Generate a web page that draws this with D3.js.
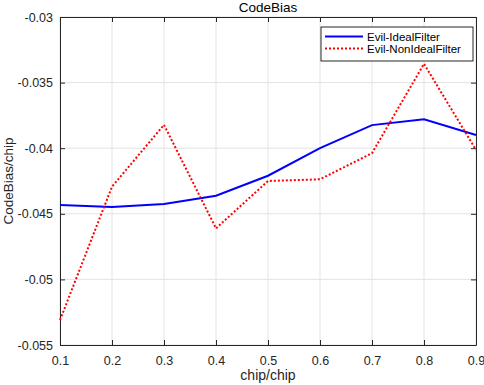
<!DOCTYPE html>
<html>
<head>
<meta charset="utf-8">
<script src="https://cdn.jsdelivr.net/npm/d3@7"></script>
<style>
  body { margin: 0; background: #fff; }
  svg { display: block; font-family: "Liberation Sans", Arial, sans-serif; }
</style>
</head>
<body>
<div id="chart"></div>
<script>
// CodeBias vs chip spacing

const xValues = [0.1, 0.2, 0.3, 0.4, 0.5, 0.6, 0.7, 0.8, 0.9];
const idealValues = [-0.04433, -0.04448, -0.04425, -0.04362, -0.0421, -0.0400, -0.03824, -0.03779, -0.03899];
const nonIdealValues = [-0.0531, -0.04293, -0.03822, -0.04611, -0.0425, -0.04237, -0.04038, -0.03357, -0.04013];
const xTicks = [0.1, 0.2, 0.3, 0.4, 0.5, 0.6, 0.7, 0.8, 0.9];
const yTicks = [-0.055, -0.05, -0.045, -0.04, -0.035, -0.03];
const seriesNames = ["Evil-IdealFilter", "Evil-NonIdealFilter"];

const W = 484, H = 385;
const margin = {top: 17, right: 8, bottom: 40, left: 60},
    width = W - margin.left - margin.right,
    height = H - margin.top - margin.bottom;

const svg = d3.select("#chart")
    .append("svg")
    .attr("width", W)
    .attr("height", H);

const g = svg.append("g")
    .attr("transform", `translate(${margin.left},${margin.top})`);

const x = d3.scaleLinear().domain([0.1, 0.9]).range([0, width]);
const y = d3.scaleLinear().domain([-0.055, -0.03]).range([height, 0]);

const axisColor = "#262626";
const gridColor = "#e3e3e3";

// Grid lines
g.append("g")
    .selectAll("line")
    .data(xTicks)
    .join("line")
    .attr("x1", d => x(d)).attr("x2", d => x(d))
    .attr("y1", 0).attr("y2", height)
    .attr("stroke", gridColor);

g.append("g")
    .selectAll("line")
    .data(yTicks)
    .join("line")
    .attr("x1", 0).attr("x2", width)
    .attr("y1", d => y(d)).attr("y2", d => y(d))
    .attr("stroke", gridColor);

// Axes (ticks inward, box on)
function styleAxis(sel) {
    sel.select(".domain").attr("stroke", axisColor);
    sel.selectAll(".tick line").attr("stroke", axisColor);
    sel.selectAll(".tick text")
        .attr("fill", "#262626")
        .style("font-size", "12.5px")
        .style("font-family", "Liberation Sans, Arial, sans-serif");
}

g.append("g")
    .attr("transform", `translate(0,${height})`)
    .call(d3.axisBottom(x).tickValues(xTicks).tickFormat(d3.format(".1f"))
        .tickSizeInner(-5).tickSizeOuter(0).tickPadding(11))
    .call(styleAxis);

g.append("g")
    .call(d3.axisTop(x).tickValues(xTicks).tickFormat("")
        .tickSizeInner(-5).tickSizeOuter(0))
    .call(styleAxis);

g.append("g")
    .call(d3.axisLeft(y).tickValues(yTicks).tickFormat(d => String(d))
        .tickSizeInner(-5).tickSizeOuter(0).tickPadding(7))
    .call(styleAxis);

g.append("g")
    .attr("transform", `translate(${width},0)`)
    .call(d3.axisRight(y).tickValues(yTicks).tickFormat("")
        .tickSizeInner(-5).tickSizeOuter(0))
    .call(styleAxis);

// Lines
const idealData = xValues.map((v, i) => ({x: v, y: idealValues[i]}));
const nonIdealData = xValues.map((v, i) => ({x: v, y: nonIdealValues[i]}));

const line = d3.line()
    .x(d => x(d.x))
    .y(d => y(d.y));

g.append("path")
    .datum(idealData)
    .attr("fill", "none")
    .attr("stroke", "#0000ff")
    .attr("stroke-width", 2)
    .attr("d", line);

g.append("path")
    .datum(nonIdealData)
    .attr("fill", "none")
    .attr("stroke", "#ff0000")
    .attr("stroke-width", 2)
    .attr("stroke-dasharray", "2,2")
    .attr("d", line);

// Title
svg.append("text")
    .attr("x", margin.left + width / 2)
    .attr("y", 12)
    .attr("text-anchor", "middle")
    .attr("fill", "#000")
    .style("font-size", "13.5px")
    .text("CodeBias");

// Axis labels
svg.append("text")
    .attr("x", margin.left + width / 2)
    .attr("y", 380)
    .attr("text-anchor", "middle")
    .attr("fill", "#262626")
    .style("font-size", "14px")
    .text("chip/chip");

svg.append("text")
    .attr("transform", `translate(13,${margin.top + height / 2}) rotate(-90)`)
    .attr("text-anchor", "middle")
    .attr("fill", "#262626")
    .style("font-size", "13.5px")
    .text("CodeBias/chip");

// Legend
const legend = svg.append("g")
    .attr("transform", "translate(321,27)");

legend.append("rect")
    .attr("width", 152)
    .attr("height", 34)
    .attr("fill", "#fff")
    .attr("stroke", axisColor)
    .attr("stroke-width", 1);

legend.append("line")
    .attr("x1", 4).attr("x2", 42)
    .attr("y1", 9.5).attr("y2", 9.5)
    .attr("stroke", "#0000ff")
    .attr("stroke-width", 2);

legend.append("line")
    .attr("x1", 4).attr("x2", 42)
    .attr("y1", 21.5).attr("y2", 21.5)
    .attr("stroke", "#ff0000")
    .attr("stroke-width", 2)
    .attr("stroke-dasharray", "2,2");

legend.selectAll("text.lbl")
    .data(seriesNames)
    .join("text")
    .attr("class", "lbl")
    .attr("x", 46)
    .attr("y", (d, i) => 13.5 + i * 12)
    .attr("fill", "#000")
    .style("font-size", "11.5px")
    .text(d => d);
</script>
</body>
</html>
